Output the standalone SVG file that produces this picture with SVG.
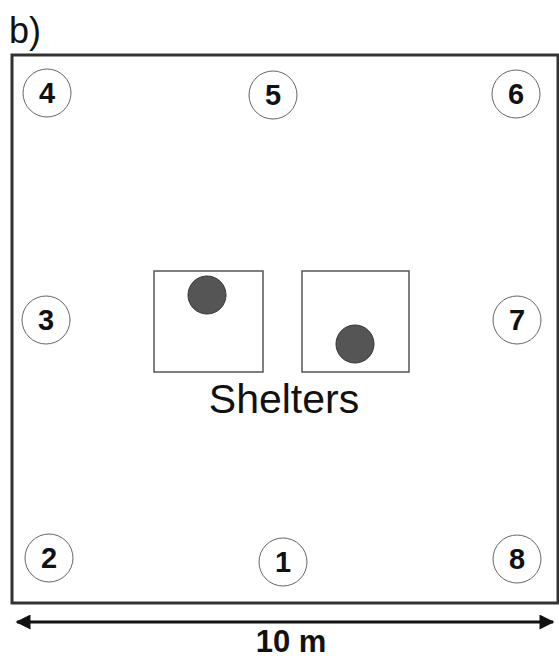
<svg xmlns="http://www.w3.org/2000/svg" width="559" height="659" viewBox="0 0 559 659">
<style>
.num{font-family:"Liberation Sans",Arial,sans-serif;font-weight:bold;font-size:29px;text-anchor:middle;fill:#111}
.ring{fill:#fff;stroke:#666;stroke-width:1}
.shelter{fill:#fff;stroke:#555;stroke-width:1.5}
.dot{fill:#555;stroke:#333;stroke-width:1}
</style>
<defs>
<marker id="ah" viewBox="0 0 10 10" refX="9" refY="5" markerWidth="6" markerHeight="5" orient="auto-start-reverse" markerUnits="strokeWidth">
<path d="M0,0 L10,5 L0,10 Z" fill="#111"/>
</marker>
</defs>
<rect width="559" height="659" fill="#fff"/>
<text x="9" y="43" font-family="Liberation Sans,Arial,sans-serif" font-size="36" fill="#111">b)</text>
<rect id="enclosure" x="12" y="55" width="546" height="548" fill="#fff" stroke="#333" stroke-width="3"/>
<g id="shelter1"><rect class="shelter" x="154" y="271" width="109" height="101"/><circle class="dot" cx="207" cy="295" r="19"/></g>
<g id="shelter2"><rect class="shelter" x="302" y="271" width="107" height="101"/><circle class="dot" cx="355" cy="344" r="19"/></g>
<text x="284" y="413" font-family="Liberation Sans,Arial,sans-serif" font-size="41" text-anchor="middle" fill="#111">Shelters</text>
<g id="n4"><circle class="ring" cx="47" cy="93" r="24"/><text class="num" x="47" y="103">4</text></g>
<g id="n5"><circle class="ring" cx="273" cy="95" r="24"/><text class="num" x="273" y="105">5</text></g>
<g id="n6"><circle class="ring" cx="516" cy="94" r="24"/><text class="num" x="516" y="104">6</text></g>
<g id="n3"><circle class="ring" cx="46" cy="320" r="24"/><text class="num" x="46" y="330">3</text></g>
<g id="n7"><circle class="ring" cx="517" cy="320" r="24"/><text class="num" x="517" y="330">7</text></g>
<g id="n2"><circle class="ring" cx="49" cy="558" r="24"/><text class="num" x="49" y="568">2</text></g>
<g id="n1"><circle class="ring" cx="283" cy="562" r="24"/><text class="num" x="283" y="572">1</text></g>
<g id="n8"><circle class="ring" cx="517" cy="559" r="24"/><text class="num" x="517" y="569">8</text></g>
<g id="connectors">
<line x1="17" y1="622" x2="553" y2="622" stroke="#111" stroke-width="3" marker-start="url(#ah)" marker-end="url(#ah)"/>
</g>
<text x="291" y="652" font-family="Liberation Sans,Arial,sans-serif" font-size="31" font-weight="bold" text-anchor="middle" fill="#111">10 m</text>
</svg>
